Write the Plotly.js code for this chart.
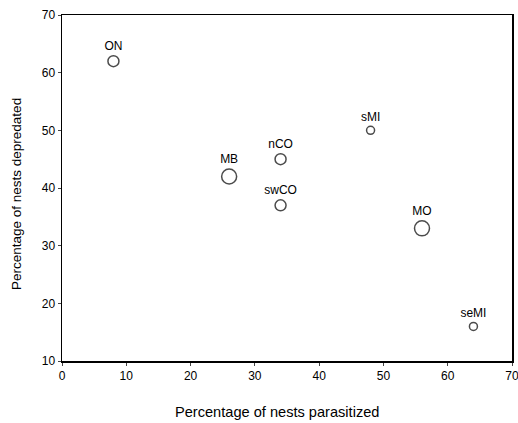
<!DOCTYPE html>
<html><head><meta charset="utf-8">
<script src="https://cdn.plot.ly/plotly-3.0.1.min.js"></script>
<style>body{margin:0;background:#fff}#c{width:518px;height:423px}</style>
</head><body><div id="c"></div>
<script>
const sites = ["ON","MB","nCO","swCO","sMI","MO","seMI"];
const parasitized = [8, 26, 34, 34, 48, 56, 64];
const depredated = [62, 42, 45, 37, 50, 33, 16];
const sampleWeight = [11, 15, 11, 11, 8, 15, 8];
const xTicks = [0,10,20,30,40,50,60,70];
const yTicks = [10,20,30,40,50,60,70];
const xTitle = 'Percentage of nests parasitized';
const yTitle = 'Percentage of nests depredated';

const fam = 'Liberation Sans, Arial, sans-serif';
const trace = {
  x: parasitized, y: depredated, text: sites,
  mode: 'markers+text', type: 'scatter',
  textposition: 'top center',
  textfont: {family: fam, size: 12, color: '#000'},
  marker: {size: sampleWeight, color: '#fff', line: {color: '#000', width: 1.5}},
  cliponaxis: false, hoverinfo: 'none'
};
const W = 518, H = 423;
const layout = {
  width: W, height: H,
  margin: {l: 62, r: 6, t: 15, b: 62},
  paper_bgcolor: '#fff', plot_bgcolor: '#fff',
  font: {family: fam, size: 12, color: '#000'}, showlegend: false,
  xaxis: {range: [0,70], tickvals: xTicks, ticks: 'outside', ticklen: 3, tickwidth: 1,
    ticklabeloverflow: 'allow',
    showline: true, mirror: true, linecolor: '#000', linewidth: 1.5, showgrid: false, zeroline: false},
  yaxis: {range: [10,70], tickvals: yTicks, ticks: 'outside', ticklen: 3, tickwidth: 1,
    ticklabeloverflow: 'allow',
    showline: true, mirror: true, linecolor: '#000', linewidth: 1.5, showgrid: false, zeroline: false},
  annotations: [
    {text: xTitle, xref: 'paper', yref: 'paper', x: (277-62)/450, y: -(412-361)/346,
     xanchor: 'center', yanchor: 'middle', showarrow: false, font: {size: 14.6}},
    {text: yTitle, xref: 'paper', yref: 'paper', x: -(62-17)/450, y: (361-194)/346,
     xanchor: 'center', yanchor: 'middle', textangle: -90, showarrow: false, font: {size: 13.5}}
  ]
};
Plotly.newPlot('c', [trace], layout, {displayModeBar: false, staticPlot: true});
</script></body></html>
